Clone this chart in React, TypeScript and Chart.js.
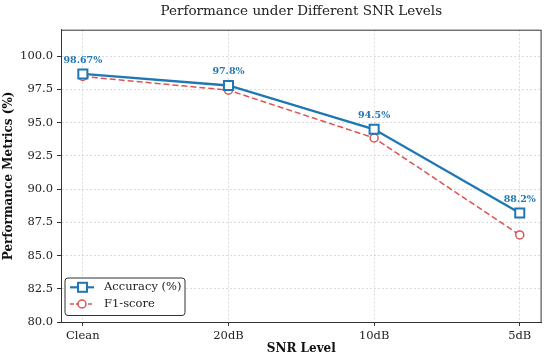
import React, { useEffect, useRef } from "react";
import { Chart, registerables } from "chart.js";

Chart.register(...registerables);

const categories = ["Clean", "20dB", "10dB", "5dB"];
const accuracy = [98.67, 97.8, 94.5, 88.2];
const f1 = [98.48, 97.45, 93.85, 86.55];
const accuracyLabels = ["98.67%", "97.8%", "94.5%", "88.2%"];
const yTicks = [80, 82.5, 85, 87.5, 90, 92.5, 95, 97.5, 100];

const BLUE = "#1f77b4";
const RED = "rgba(214,39,40,0.8)";
const FONT = "'DejaVu Serif', serif";

const framePlugin = {
  id: "frameAndLabels",
  afterDraw(chart: any) {
    const { ctx, chartArea } = chart;
    const xs = chart.scales.x;
    const ys = chart.scales.y;
    ctx.save();
    // frame
    ctx.strokeStyle = "#333333";
    ctx.lineWidth = 1;
    ctx.strokeRect(chartArea.left + 0.5, chartArea.top + 0.5, chartArea.right - chartArea.left - 1, chartArea.bottom - chartArea.top);
    // data labels
    ctx.fillStyle = BLUE;
    ctx.font = `bold 9.5px ${FONT}`;
    ctx.textAlign = "center";
    ctx.textBaseline = "middle";
    accuracy.forEach((v, i) => {
      const px = xs.getPixelForValue(i);
      const py = ys.getPixelForValue(v);
      ctx.fillText(accuracyLabels[i], px, py - 13.5);
    });
    // legend
    const bx = 65, by = 278, bw = 120, bh = 37.5;
    ctx.beginPath();
    const r = 3;
    ctx.moveTo(bx + r, by);
    ctx.lineTo(bx + bw - r, by);
    ctx.quadraticCurveTo(bx + bw, by, bx + bw, by + r);
    ctx.lineTo(bx + bw, by + bh - r);
    ctx.quadraticCurveTo(bx + bw, by + bh, bx + bw - r, by + bh);
    ctx.lineTo(bx + r, by + bh);
    ctx.quadraticCurveTo(bx, by + bh, bx, by + bh - r);
    ctx.lineTo(bx, by + r);
    ctx.quadraticCurveTo(bx, by, bx + r, by);
    ctx.closePath();
    ctx.fillStyle = "rgba(255,255,255,0.9)";
    ctx.fill();
    ctx.strokeStyle = "#333333";
    ctx.lineWidth = 1;
    ctx.stroke();
    const ds = chart.data.datasets;
    const rows = [287.3, 304];
    ds.forEach((d: any, i: number) => {
      const y = rows[i];
      ctx.save();
      ctx.strokeStyle = d.borderColor;
      ctx.lineWidth = i === 0 ? 2.2 : 1.5;
      ctx.setLineDash(i === 0 ? [] : [4, 2]);
      ctx.beginPath();
      ctx.moveTo(70, y);
      ctx.lineTo(94, y);
      ctx.stroke();
      ctx.setLineDash([]);
      ctx.fillStyle = "#ffffff";
      if (i === 0) {
        ctx.fillRect(78, y - 4.5, 9, 9);
        ctx.lineWidth = 2;
        ctx.strokeRect(78, y - 4.5, 9, 9);
      } else {
        ctx.beginPath();
        ctx.arc(82, y, 4, 0, Math.PI * 2);
        ctx.fill();
        ctx.lineWidth = 1.5;
        ctx.stroke();
      }
      ctx.restore();
      ctx.fillStyle = "#222222";
      ctx.font = `11.5px ${FONT}`;
      ctx.textAlign = "left";
      ctx.textBaseline = "middle";
      ctx.fillText(d.label, 104, y);
    });
    ctx.restore();
  },
};

const gridOpts: any = {
  color: "rgba(190,190,190,0.55)",
  tickColor: "#333333",
  tickLength: 4,
  tickBorderDash: [],
};

export default function App() {
  const ref = useRef<HTMLCanvasElement | null>(null);
  useEffect(() => {
    if (!ref.current) return;
    const chart = new Chart(ref.current, {
      type: "line",
      data: {
        datasets: [
          {
            label: "Accuracy (%)",
            data: accuracy.map((v, i) => ({ x: i, y: v })),
            borderColor: BLUE,
            backgroundColor: "#ffffff",
            borderWidth: 2.3,
            pointStyle: "rect",
            pointRadius: 6.4,
            pointBorderWidth: 2,
            pointBackgroundColor: "#ffffff",
            pointBorderColor: BLUE,
            tension: 0,
            order: 1,
          },
          {
            label: "F1-score",
            data: f1.map((v, i) => ({ x: i, y: v })),
            borderColor: RED,
            backgroundColor: "#ffffff",
            borderWidth: 1.5,
            borderDash: [6, 3],
            pointStyle: "circle",
            pointRadius: 4,
            pointBorderWidth: 1.5,
            pointBackgroundColor: "#ffffff",
            pointBorderColor: RED,
            tension: 0,
            order: 2,
          },
        ],
      },
      options: {
        animation: false,
        responsive: false,
        layout: { padding: { left: 0, right: 6, top: 0, bottom: 0 } },
        plugins: {
          legend: { display: false },
          tooltip: { enabled: false },
          title: {
            display: true,
            text: "Performance under Different SNR Levels",
            color: "#222222",
            font: { family: FONT, size: 13.5, weight: "normal" },
            padding: { top: 3, bottom: 10.5 },
            fullSize: false,
          },
        },
        scales: {
          x: {
            type: "linear",
            min: -0.15,
            max: 3.15,
            afterBuildTicks: (s: any) => {
              s.ticks = categories.map((_, i) => ({ value: i }));
            },
            afterFit: (s: any) => {
              s.height = 36;
            },
            ticks: {
              color: "#222222",
              font: { family: FONT, size: 11.5 },
              padding: 3,
              maxRotation: 0,
              autoSkip: false,
              callback: (v: any) => categories[Number(v)] ?? "",
            },
            grid: gridOpts,
            border: { color: "#333333", width: 1, dash: [2, 2] },
            title: {
              display: true,
              text: "SNR Level",
              color: "#111111",
              font: { family: FONT, size: 12, weight: "bold" },
              padding: { top: 0, bottom: 2 },
            },
          },
          y: {
            min: 80,
            max: 102,
            afterBuildTicks: (s: any) => {
              s.ticks = yTicks.map((v) => ({ value: v }));
            },
            afterFit: (s: any) => {
              s.width = 61;
            },
            ticks: {
              color: "#222222",
              font: { family: FONT, size: 11.5 },
              padding: 4,
              callback: (v: any) => Number(v).toFixed(1),
            },
            grid: gridOpts,
            border: { color: "#333333", width: 1, dash: [2, 2] },
            title: {
              display: true,
              text: "Performance Metrics (%)",
              color: "#111111",
              font: { family: FONT, size: 12, weight: "bold" },
              padding: { top: 2, bottom: 0 },
            },
          },
        },
      } as any,
      plugins: [framePlugin],
    });
    return () => chart.destroy();
  }, []);
  return (
    <div style={{ position: "fixed", left: 0, top: 0, width: 550, height: 358, background: "#ffffff" }}>
      <canvas ref={ref} width={550} height={358} style={{ display: "block", width: 550, height: 358 }} />
    </div>
  );
}
